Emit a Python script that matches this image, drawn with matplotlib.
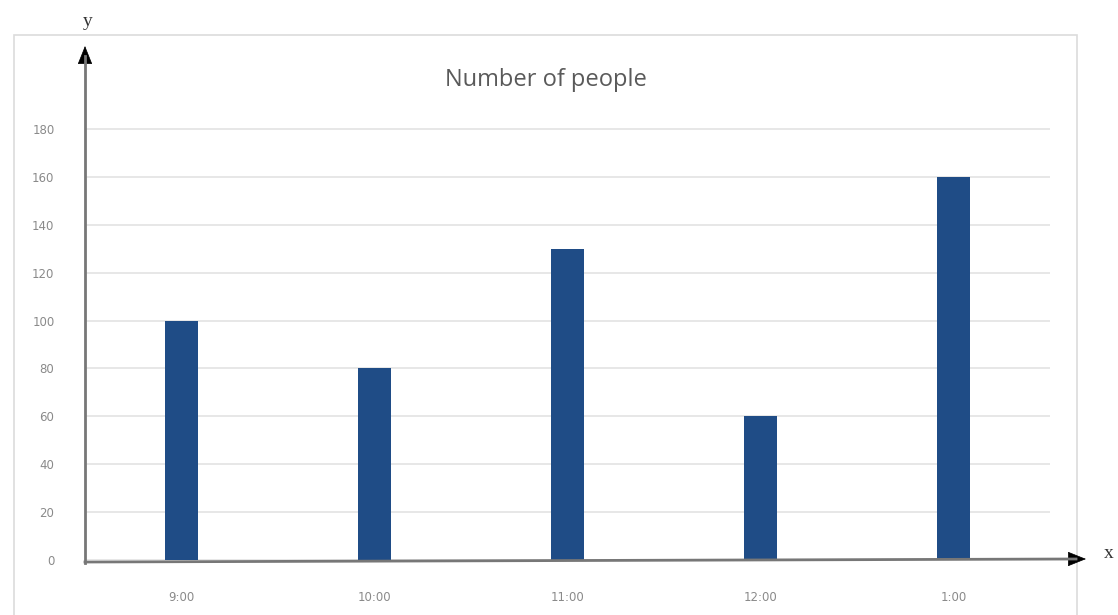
import matplotlib
matplotlib.use("Agg")
import matplotlib.pyplot as plt
from matplotlib.patches import Rectangle, FancyArrowPatch
from matplotlib.lines import Line2D

categories = ["9:00", "10:00", "11:00", "12:00", "1:00"]
values = [100, 80, 130, 60, 160]
yticks = [0, 20, 40, 60, 80, 100, 120, 140, 160, 180]
title = "Number of people"

W, H = 1118, 615
fig = plt.figure(figsize=(W / 100, H / 100), dpi=100)
fig.patch.set_facecolor("white")

def fx(px):
    return px / W

def fy(py):
    return 1 - py / H

# outer chart border
fig.patches.append(Rectangle((fx(14), fy(700)), fx(1077) - fx(14), fy(35) - fy(700),
                             transform=fig.transFigure, fill=False,
                             edgecolor="#dcdcdc", linewidth=1.2, zorder=0))

left, right, top, bottom = 85, 1050, 124.2, 560
ax = fig.add_axes([fx(left), fy(bottom), fx(right) - fx(left), fy(top) - fy(bottom)])

x = list(range(len(categories)))
ax.bar(x, values, width=0.166, color="#1f4c86", zorder=3)
ax.set_xlim(-0.5, len(categories) - 0.5)
ax.set_ylim(0, 182)
ax.set_yticks(yticks)
ax.set_xticks(x)
ax.set_xticklabels(categories)
ax.yaxis.grid(True, color="#e3e3e3", linewidth=1.2, zorder=0)
ax.set_axisbelow(True)
for s in ax.spines.values():
    s.set_visible(False)
ax.tick_params(axis="both", length=0, labelsize=8.5, labelcolor="#8a8a8a")
ax.tick_params(axis="y", pad=22)
ax.tick_params(axis="x", pad=22)

# axes lines (grey) with black arrowheads
fig.add_artist(Line2D([fx(85), fx(85)], [fy(563), fy(56)], transform=fig.transFigure,
                      color="#777777", lw=2))
fig.add_artist(Line2D([fx(85), fx(1076)], [fy(562), fy(559)], transform=fig.transFigure,
                      color="#777777", lw=2))
head_kw = dict(arrowstyle="-|>,head_length=1.0,head_width=0.4", color="black",
               lw=0.5, shrinkA=0, shrinkB=0, mutation_scale=12)
fig.add_artist(FancyArrowPatch((fx(85), fy(60)), (fx(85), fy(46)),
               transform=fig.transFigure, **head_kw))
fig.add_artist(FancyArrowPatch((fx(1072), fy(559)), (fx(1086), fy(559)),
               transform=fig.transFigure, **head_kw))

fig.text(fx(88), fy(22), "y", ha="center", va="center", fontsize=14,
         family="Liberation Serif", color="#333333")
fig.text(fx(1109), fy(553), "x", ha="center", va="center", fontsize=14,
         family="Liberation Serif", color="#333333")

fig.text(fx(546), fy(80), title, ha="center", va="center", fontsize=17,
         family="Open Sans", color="#5a5a5a")

fig.savefig("out.png", dpi=100, facecolor="white")
